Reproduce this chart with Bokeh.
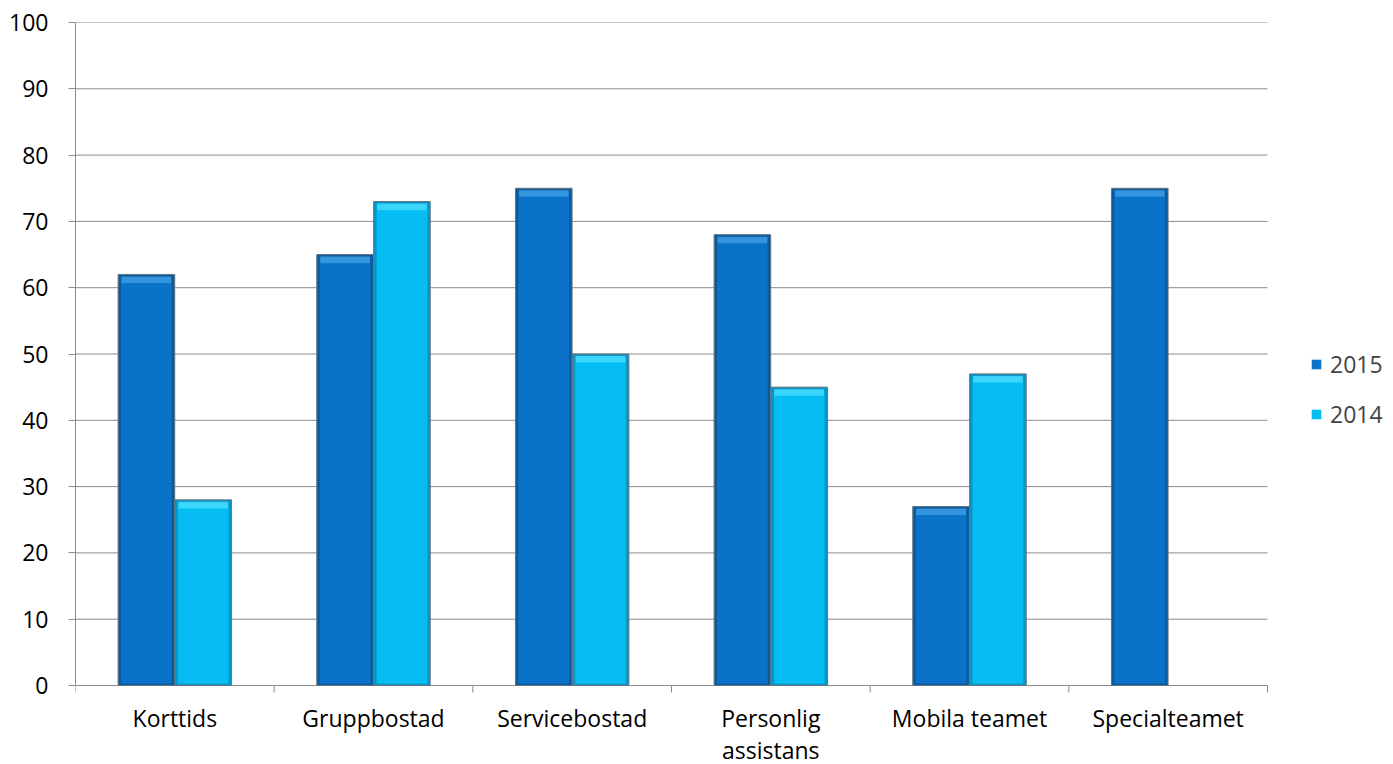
from bokeh.plotting import figure
from bokeh.models import ColumnDataSource, FixedTicker, Range1d, Legend, LegendItem
from bokeh.core.properties import value
from bokeh.embed import file_html
from bokeh.resources import INLINE

categories = ["Korttids", "Gruppbostad", "Servicebostad", "Personlig\nassistans", "Mobila teamet", "Specialteamet"]
values_2015 = [62, 65, 75, 68, 27, 75]
values_2014 = [28, 73, 50, 45, 47, None]
y_ticks = [0, 10, 20, 30, 40, 50, 60, 70, 80, 90, 100]

FONT = "Open Sans"
FONT_SIZE = "23px"
C2015 = "#0A72C8"
C2015_EDGE = "#0A5A9E"
C2015_TOP = "#3C9BE3"
C2014 = "#05BDF3"
C2014_EDGE = "#0896C8"
C2014_TOP = "#45DAFB"
OUTLINE = "#66747E"
GRID = "#8C8C8C"

W, H = 1393, 764
LEFT, TOP = 75, 22
PLOT_RIGHT = 1267          # category area ends here; legend sits to its right
AXIS_Y = 685               # pixel row of the zero line
n = len(categories)
x_end = n * (W - LEFT) / (PLOT_RIGHT - LEFT)
px_per_unit = (AXIS_Y - TOP) / 100.0
y_start = -(H - AXIS_Y) / px_per_unit   # room below zero for the category labels

bar_w = 0.285
off = 0.143

centers = [i + 0.5 for i in range(n)]
x15 = [c - off for c in centers]
x14 = [c + off for c in centers]

p = figure(width=W, height=H, output_backend="svg", toolbar_location=None,
           x_range=Range1d(0, x_end), y_range=Range1d(y_start, 100),
           x_axis_location=None,
           min_border_left=LEFT, min_border_right=0, min_border_top=TOP, min_border_bottom=0)
p.outline_line_color = None
p.background_fill_color = "white"
p.border_fill_color = "white"
p.xgrid.grid_line_color = None
p.ygrid.grid_line_color = None

# horizontal gridlines over the category area (the 0 line doubles as the x axis)
p.segment(x0=[0] * len(y_ticks), x1=[n] * len(y_ticks), y0=y_ticks, y1=y_ticks,
          line_color=GRID, line_width=1)

# x tick marks at the group boundaries
tick_len = 7 / px_per_unit
bounds = list(range(n + 1))
p.segment(x0=bounds, x1=bounds, y0=[0] * len(bounds), y1=[-tick_len] * len(bounds),
          line_color=GRID, line_width=1)

# category labels under the groups
label_top = -16 / px_per_unit
p.text(x=centers, y=[label_top] * n, text=categories,
       text_font=value(FONT), text_font_size=value(FONT_SIZE), text_color="black",
       text_align="center", text_baseline="top", text_line_height=1.0)


def draw_series(xs, vals, fill, edge, top_col):
    xs2 = [x for x, v in zip(xs, vals) if v is not None]
    vs = [v for v in vals if v is not None]
    src = ColumnDataSource(dict(x=xs2, top=vs))
    # darker bevelled rim
    p.vbar(x="x", top="top", bottom=0, width=bar_w, source=src,
           fill_color=edge, line_color=OUTLINE, line_width=1)
    # face of the bar
    face = ColumnDataSource(dict(x=xs2, top=[v - 0.5 for v in vs]))
    r = p.vbar(x="x", top="top", bottom=0.3, width=bar_w - 0.03, source=face,
               fill_color=fill, line_color=None)
    # light top bevel
    hl = ColumnDataSource(dict(x=xs2, top=[v - 0.3 for v in vs], bottom=[v - 1.3 for v in vs]))
    p.vbar(x="x", top="top", bottom="bottom", width=bar_w - 0.035, source=hl,
           fill_color=top_col, fill_alpha=0.85, line_color=None)
    return r


r15 = draw_series(x15, values_2015, C2015, C2015_EDGE, C2015_TOP)
r14 = draw_series(x14, values_2014, C2014, C2014_EDGE, C2014_TOP)

# y axis
p.yaxis.bounds = (0, 100)
p.yaxis.ticker = FixedTicker(ticks=y_ticks)
p.yaxis.axis_line_color = GRID
p.yaxis.major_tick_line_color = GRID
p.yaxis.major_tick_out = 7
p.yaxis.major_tick_in = 0
p.yaxis.minor_tick_line_color = None
p.yaxis.major_label_standoff = 20
p.yaxis.major_label_text_font = FONT
p.yaxis.major_label_text_font_size = FONT_SIZE
p.yaxis.major_label_text_color = "black"

legend = Legend(items=[LegendItem(label="2015", renderers=[r15]),
                       LegendItem(label="2014", renderers=[r14])],
                location=(1235, 334), orientation="vertical",
                glyph_width=12, glyph_height=12, spacing=18,
                label_text_font=FONT, label_text_font_size=FONT_SIZE,
                label_standoff=8, padding=0, margin=0,
                background_fill_alpha=0, border_line_color=None)
p.add_layout(legend, "center")

open("out.html", "w").write(file_html(p, INLINE))
